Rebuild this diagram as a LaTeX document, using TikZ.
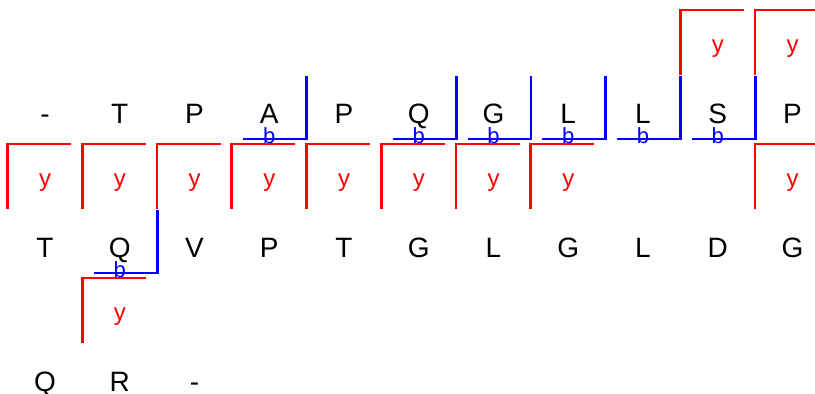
\documentclass[tikz,border=0pt]{standalone}
\usepackage{fontspec}
\setmainfont{Liberation Sans}
\begin{document}
\begin{tikzpicture}[x=1pt,y=-1pt,
  letter/.style={font=\fontsize{28}{30}\selectfont, anchor=base, inner sep=0pt, text depth=0pt},
  ylab/.style={text=red, font=\fontsize{24}{26}\selectfont, anchor=base, inner sep=0pt},
  blab/.style={text=blue, font=\fontsize{22}{24}\selectfont, anchor=base, inner sep=0pt, text height=12pt, text depth=0pt},
  redbr/.style={draw=red, line width=2.6pt},
  bluebr/.style={draw=blue, line width=2.6pt}]
\useasboundingbox (0,0) rectangle (815,394);
\clip (0,0) rectangle (815,394);
% red brackets (y)
\foreach \i/\r in {9/0,10/0,0/1,1/1,2/1,3/1,4/1,5/1,6/1,7/1,10/1,1/2} {
  \pgfmathsetmacro\x{45+74.75*\i}
  \pgfmathsetmacro\B{-11+134*\r}
  \draw[redbr] (\x-37.5,\B+86) -- (\x-37.5,\B+21) -- (\x+26,\B+21);
  \node[ylab] (y\r-\i) at (\x,\B+63.5) {y};
}
% blue brackets (b)
\foreach \i/\r in {3/1,5/1,6/1,7/1,8/1,9/1,1/2} {
  \pgfmathsetmacro\x{45+74.75*\i}
  \pgfmathsetmacro\B{-11+134*\r}
  \draw[bluebr] (\x-26,\B+16) -- (\x+37.5,\B+16) -- (\x+37.5,\B-47);
  \node[blab] (b\r-\i) at (\x,\B+20.5) {b};
}
% letters
\foreach \t [count=\i from 0] in {-,T,P,A,P,Q,G,L,L,S,P}
  \node[letter] (a\i) at ({45+74.75*\i},123) {\t};
\foreach \t [count=\i from 0] in {T,Q,V,P,T,G,L,G,L,D,G}
  \node[letter] (c\i) at ({45+74.75*\i},257) {\t};
\foreach \t [count=\i from 0] in {Q,R,-}
  \node[letter] (d\i) at ({45+74.75*\i},391) {\t};
\end{tikzpicture}
\end{document}
